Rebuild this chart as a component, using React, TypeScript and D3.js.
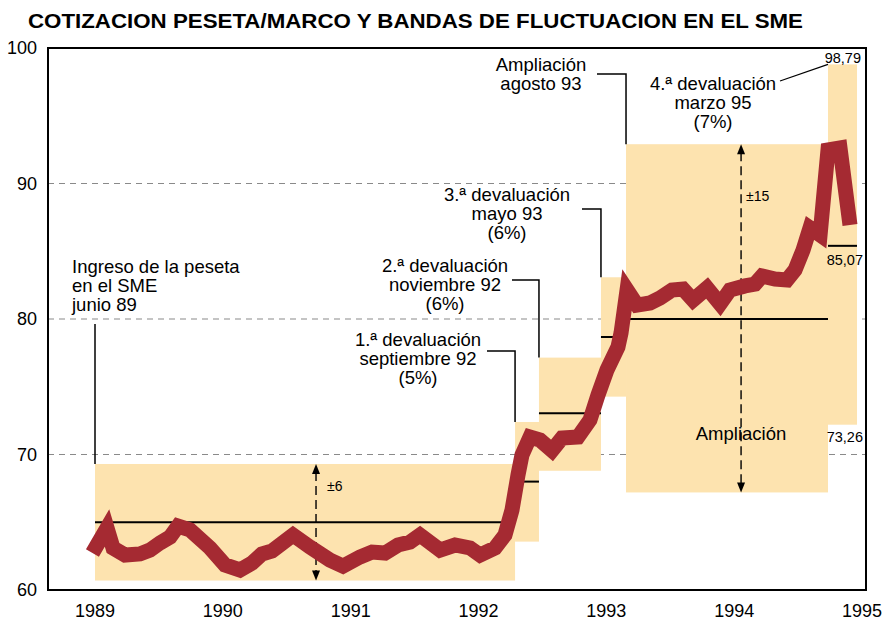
import * as d3 from "d3";
import React from "react";

// cotizacion peseta/marco (pesetas por marco)
const rateYear = [
  1988.98, 1989.094, 1989.141, 1989.235, 1989.352, 1989.43, 1989.508, 1989.587, 1989.649, 1989.743,
  1989.9, 1990.017, 1990.134, 1990.228, 1990.306, 1990.385, 1990.549, 1990.682, 1990.838, 1990.94,
  1991.073, 1991.167, 1991.269, 1991.37, 1991.464, 1991.542, 1991.699, 1991.816, 1991.934, 1992.012,
  1992.129, 1992.207, 1992.262, 1992.309, 1992.34, 1992.403, 1992.481, 1992.575, 1992.653, 1992.778,
  1992.872, 1992.935, 1993.005, 1993.091, 1993.115, 1993.162, 1993.24, 1993.342, 1993.42, 1993.514,
  1993.6, 1993.678, 1993.788, 1993.89, 1993.967, 1994.085, 1994.163, 1994.218, 1994.32, 1994.413,
  1994.476, 1994.539, 1994.593, 1994.672, 1994.734, 1994.828, 1994.906,
];
const rateValue = [
  62.73, 64.58, 63.1, 62.58, 62.66, 62.95, 63.47, 63.91, 64.72, 64.43,
  63.1, 61.85, 61.48, 61.99, 62.66, 62.88, 64.06, 63.17, 62.21, 61.77,
  62.44, 62.8, 62.73, 63.32, 63.54, 64.06, 62.95, 63.32, 63.1, 62.58,
  63.1, 64.06, 65.9, 68.49, 69.96, 71.29, 71.07, 70.3, 71.22, 71.29,
  72.55, 74.39, 76.24, 77.93, 78.97, 82.14, 81.03, 81.18, 81.55, 82.14,
  82.21, 81.4, 82.29, 81.11, 82.14, 82.44, 82.58, 83.17, 82.95, 82.88,
  83.62, 85.09, 86.72, 86.2, 92.47, 92.62, 86.94,
];

// bandas de fluctuacion
const bandStart = [1989.0, 1992.286, 1992.473, 1992.958, 1993.154, 1994.734];
const bandEnd = [1992.286, 1992.473, 1992.958, 1993.154, 1994.734, 1994.961];
const bandCentral = [65.0, 68.0, 73.04, 78.67, 80.0, 85.4];
const bandHigh = [69.3, 72.4, 77.15, 83.08, 92.9, 98.79];
const bandLow = [60.7, 63.57, 68.8, 74.27, 67.2, 72.2];

const years = [1989, 1990, 1991, 1992, 1993, 1994, 1995];
const yTicks = [60, 70, 80, 90, 100];
const gridValues = [70, 80, 90];

const W = 883, H = 620;
const left = 48, right = 866, top = 48, bottom = 590;
const font = "'Liberation Sans', Arial, Helvetica, sans-serif";
const red = "#a52a32";
const bandFill = "#fde3af";

const x = d3.scaleLinear().domain([1989, 1995]).range([95, 862]);
const y = d3.scaleLinear().domain([60, 100]).range([bottom, top]);

const notes = [
  { lines: ["Ingreso de la peseta", "en el SME", "junio 89"], x: 72, y: 273, anchor: "start" },
  { lines: ["1.ª devaluación", "septiembre 92", "(5%)"], x: 418, y: 346, anchor: "middle" },
  { lines: ["2.ª devaluación", "noviembre 92", "(6%)"], x: 445, y: 272, anchor: "middle" },
  { lines: ["3.ª devaluación", "mayo 93", "(6%)"], x: 507, y: 201, anchor: "middle" },
  { lines: ["Ampliación", "agosto 93"], x: 541, y: 71, anchor: "middle" },
  { lines: ["4.ª devaluación", "marzo 95", "(7%)"], x: 713, y: 90, anchor: "middle" },
];

// leaders: band index, y of horizontal run, x where it starts
const leaders = [
  { band: 1, hy: 351, hx: 487 },
  { band: 2, hy: 280, hx: 512 },
  { band: 3, hy: 209, hx: 582 },
  { band: 4, hy: 74, hx: 597 },
];

const Arrow = ({ xv, hi, lo, label }: any) => {
  const px = x(xv), y1 = y(hi), y2 = y(lo);
  return (
    <g>
      <line x1={px} x2={px} y1={y1 + 8} y2={y2 - 8} stroke="#000" strokeWidth={1.4} strokeDasharray="9,5" />
      <polygon points={`${px},${y1} ${px - 4},${y1 + 10} ${px + 4},${y1 + 10}`} fill="#000" />
      <polygon points={`${px},${y2} ${px - 4},${y2 - 10} ${px + 4},${y2 - 10}`} fill="#000" />
      {label}
    </g>
  );
};

const App = () => {
  const line = d3.line<number>()
    .x((d, i) => x(rateYear[i]))
    .y((d) => y(d));

  return (
    <svg width={W} height={H} style={{ position: "absolute", left: 0, top: 0, background: "#fff" }}
      fontFamily={font}>
      <text x={28} y={28} fontSize={19.5} fontWeight="bold" textLength={775} lengthAdjust="spacingAndGlyphs">
        COTIZACION PESETA/MARCO Y BANDAS DE FLUCTUACION EN EL SME
      </text>

      {gridValues.map((v) => (
        <line key={v} x1={left} x2={right} y1={y(v)} y2={y(v)} stroke="#8a8a8a" strokeWidth={1.2} strokeDasharray="6,5" />
      ))}

      {bandStart.map((s, i) => (
        <rect key={i} x={x(s)} y={y(bandHigh[i])} width={x(bandEnd[i]) - x(s)}
          height={y(bandLow[i]) - y(bandHigh[i])} fill={bandFill} />
      ))}

      {bandStart.map((s, i) => (
        <line key={i} x1={x(s)} x2={x(bandEnd[i])} y1={y(bandCentral[i])} y2={y(bandCentral[i])}
          stroke="#000" strokeWidth={2} />
      ))}

      {/* leader lines */}
      <line x1={x(bandStart[0])} x2={x(bandStart[0])} y1={324} y2={y(bandHigh[0])} stroke="#000" strokeWidth={1.5} />
      {leaders.map((l, i) => (
        <polyline key={i} fill="none" stroke="#000" strokeWidth={1.5}
          points={`${l.hx},${l.hy} ${x(bandStart[l.band])},${l.hy} ${x(bandStart[l.band])},${y(bandHigh[l.band])}`} />
      ))}
      <line x1={780} y1={81} x2={x(bandStart[5])} y2={y(bandHigh[5])} stroke="#000" strokeWidth={1.2} />

      <Arrow xv={1990.729} hi={bandHigh[0]} lo={bandLow[0]}
        label={<text x={327} y={491} fontSize={14}>±6</text>} />
      <Arrow xv={1994.054} hi={bandHigh[4]} lo={bandLow[4]}
        label={<text x={746} y={201} fontSize={14}>±15</text>} />

      <path d={line(rateValue) || ""} fill="none" stroke={red} strokeWidth={15}
        strokeLinejoin="miter" strokeMiterlimit={3} strokeLinecap="butt" />

      {/* frame */}
      <rect x={left} y={top} width={right - left} height={bottom - top} fill="none" stroke="#000" strokeWidth={2} />

      {yTicks.map((v) => (
        <text key={v} x={37} y={y(v) + 6} fontSize={18} textAnchor="end">{v}</text>
      ))}
      {years.map((yr) => (
        <text key={yr} x={x(yr)} y={617} fontSize={18} textAnchor="middle">{yr}</text>
      ))}

      {notes.map((n, i) => (
        <text key={i} fontSize={18.5} textAnchor={n.anchor as any}>
          {n.lines.map((t, j) => (
            <tspan key={j} x={n.x} y={n.y + j * 19}>{t}</tspan>
          ))}
        </text>
      ))}

      <text x={741} y={440} fontSize={18.5} textAnchor="middle">Ampliación</text>
      <text x={861} y={63} fontSize={14.5} textAnchor="end">98,79</text>
      <text x={863} y={265} fontSize={14.5} textAnchor="end">85,07</text>
      <text x={863} y={442} fontSize={14.5} textAnchor="end">73,26</text>
    </svg>
  );
};

export default App;
